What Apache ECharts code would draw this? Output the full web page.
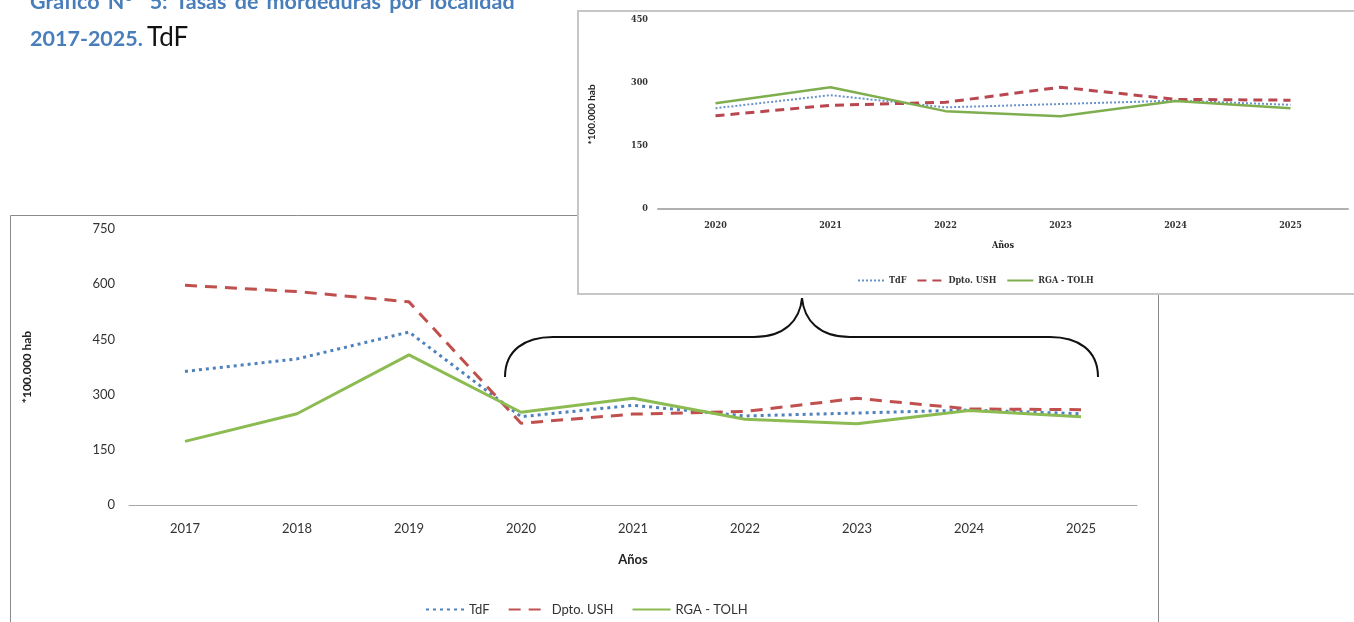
<!DOCTYPE html>
<html>
<head>
<meta charset="utf-8">
<script src="https://cdn.jsdelivr.net/npm/echarts@6/dist/echarts.min.js"></script>
<style>
  html, body { margin:0; padding:0; background:#fff; width:1354px; height:622px; overflow:hidden; }
  #main { position:absolute; left:0; top:0; width:1354px; height:622px; }
  #inset { position:absolute; left:577px; top:10px; width:790px; height:281px; background:#fff;
           border:2px solid #c6c6c6; box-sizing:content-box; }
  .t1 { position:absolute; left:30px; top:-12px; font-family:Lato, 'Open Sans', sans-serif; font-weight:bold;
        font-size:21.5px; color:#4a7ebb; white-space:nowrap; word-spacing:3px; }
  .t2 { position:absolute; left:30px; top:20px; font-family:Lato, 'Open Sans', sans-serif; white-space:nowrap; }
  .t2 b { font-size:21.5px; color:#4a7ebb; }
  .t2 span { font-size:26px; color:#111; }
</style>
</head>
<body>
<div id="main"></div>
<div class="t1">Gráfico N°&nbsp; 5: Tasas de mordeduras por localidad</div>
<div class="t2"><b>2017-2025.</b> <span>TdF</span></div>
<div id="inset"></div>
<script>
// ---- data ----
const years = ['2017','2018','2019','2020','2021','2022','2023','2024','2025'];
const tdf = [363, 397, 470, 240, 271, 242, 250, 258, 248];
const ush = [597, 580, 552, 222, 247, 254, 290, 261, 259];
const rga = [173, 248, 408, 252, 290, 233, 221, 257, 240];
const seriesNames = ['TdF', 'Dpto. USH', 'RGA - TOLH'];
const yTicksMain = [0, 150, 300, 450, 600, 750];
const yTicksInset = [0, 150, 300, 450];
const insetStart = 3; // 2020

const FONT = 'Lato, "Open Sans", sans-serif';
const C_BLUE = '#4f81bd', C_RED = '#c0504d', C_GREEN = '#8cbb52';

const braceStyle = { fill: 'none', stroke: '#111', lineWidth: 2 };
const main = echarts.init(document.getElementById('main'));
main.setOption({
  animation: false,
  grid: { left: 129, top: 229, width: 1008, height: 276 },
  xAxis: {
    type: 'category', data: years, boundaryGap: true,
    axisLine: { lineStyle: { color: '#a6a6a6', width: 1 } },
    axisTick: { show: false },
    axisLabel: { margin: 17, fontSize: 13, color: '#333', fontFamily: FONT },
    name: 'Años', nameLocation: 'middle', nameGap: 48,
    nameTextStyle: { fontWeight: 'bold', fontSize: 13, color: '#222', fontFamily: FONT }
  },
  yAxis: {
    type: 'value', min: yTicksMain[0], max: yTicksMain[yTicksMain.length-1], interval: 150,
    splitLine: { show: false }, axisLine: { show: false }, axisTick: { show: false },
    axisLabel: { margin: 14, fontSize: 13, color: '#333', fontFamily: FONT },
    name: '*100.000 hab', nameLocation: 'middle', nameGap: 96, nameRotate: 90,
    nameTextStyle: { fontWeight: 'bold', fontSize: 12, color: '#222', fontFamily: FONT }
  },
  legend: {
    left: 420, top: 598, itemWidth: 38, itemHeight: 10, itemGap: 18,
    itemStyle: { opacity: 0 },
    textStyle: { fontSize: 13, color: '#333', fontFamily: FONT },
    data: seriesNames
  },
  series: [
    { name: seriesNames[0], type: 'line', data: tdf, symbol: 'none',
      lineStyle: { color: C_BLUE, width: 3, type: [3, 4] }, itemStyle: { color: C_BLUE } },
    { name: seriesNames[1], type: 'line', data: ush, symbol: 'none',
      lineStyle: { color: C_RED, width: 3, type: [12, 8] }, itemStyle: { color: C_RED } },
    { name: seriesNames[2], type: 'line', data: rga, symbol: 'none',
      lineStyle: { color: C_GREEN, width: 3 }, itemStyle: { color: C_GREEN } }
  ],
  graphic: [
    { type: 'rect', z: -1, silent: true, shape: { x: 10.5, y: 215.5, width: 1148, height: 420 },
      style: { fill: 'none', stroke: '#8a8a8a', lineWidth: 1 } },
    { type: 'bezierCurve', silent: true,
      shape: { x1: 505, y1: 377, cpx1: 505, cpy1: 350, cpx2: 525, cpy2: 337, x2: 553, y2: 337 }, style: braceStyle },
    { type: 'line', silent: true, shape: { x1: 553, y1: 337, x2: 754, y2: 337 }, style: braceStyle },
    { type: 'bezierCurve', silent: true,
      shape: { x1: 754, y1: 337, cpx1: 785, cpy1: 337, cpx2: 800, cpy2: 320, x2: 802, y2: 298 }, style: braceStyle },
    { type: 'bezierCurve', silent: true,
      shape: { x1: 802, y1: 298, cpx1: 804, cpy1: 320, cpx2: 819, cpy2: 337, x2: 850, y2: 337 }, style: braceStyle },
    { type: 'line', silent: true, shape: { x1: 850, y1: 337, x2: 1050, y2: 337 }, style: braceStyle },
    { type: 'bezierCurve', silent: true,
      shape: { x1: 1050, y1: 337, cpx1: 1078, cpy1: 337, cpx2: 1098, cpy2: 350, x2: 1098, y2: 377 }, style: braceStyle }
  ]
});

const IFONT = '"DejaVu Serif Condensed", "Liberation Serif", serif';
const inset = echarts.init(document.getElementById('inset'));
inset.setOption({
  animation: false,
  grid: { left: 79, top: 8, width: 690, height: 189 },
  xAxis: {
    type: 'category', data: years.slice(insetStart), boundaryGap: true,
    axisLine: { lineStyle: { color: '#b0b0b0', width: 2 } },
    axisTick: { show: false },
    axisLabel: { margin: 12, fontSize: 9, fontWeight: 'bold', color: '#333', fontFamily: IFONT },
    name: 'Años', nameLocation: 'middle', nameGap: 32,
    nameTextStyle: { fontWeight: 'bold', fontSize: 9, color: '#222', fontFamily: IFONT }
  },
  yAxis: {
    type: 'value', min: yTicksInset[0], max: yTicksInset[yTicksInset.length-1], interval: 150,
    splitLine: { show: false }, axisLine: { show: false }, axisTick: { show: false },
    axisLabel: { margin: 10, fontSize: 9, fontWeight: 'bold', color: '#333', fontFamily: IFONT },
    name: '*100.000 hab', nameLocation: 'middle', nameGap: 61, nameRotate: 90,
    nameTextStyle: { fontWeight: 'bold', fontSize: 10, color: '#222', fontFamily: FONT }
  },
  legend: {
    left: 273, top: 259, itemWidth: 26, itemHeight: 8, itemGap: 10,
    itemStyle: { opacity: 0 },
    textStyle: { fontSize: 9, fontWeight: 'bold', color: '#333', fontFamily: IFONT },
    data: seriesNames
  },
  series: [
    { name: seriesNames[0], type: 'line', data: tdf.slice(insetStart), symbol: 'none',
      lineStyle: { color: '#6a93c6', width: 2, type: [2, 2] }, itemStyle: { color: '#6a93c6' } },
    { name: seriesNames[1], type: 'line', data: ush.slice(insetStart), symbol: 'none',
      lineStyle: { color: '#b8474f', width: 3, type: [9, 6] }, itemStyle: { color: '#b8474f' } },
    { name: seriesNames[2], type: 'line', data: rga.slice(insetStart), symbol: 'none',
      lineStyle: { color: '#7fae4f', width: 2.5 }, itemStyle: { color: '#7fae4f' } }
  ]
});
</script>
</body>
</html>
